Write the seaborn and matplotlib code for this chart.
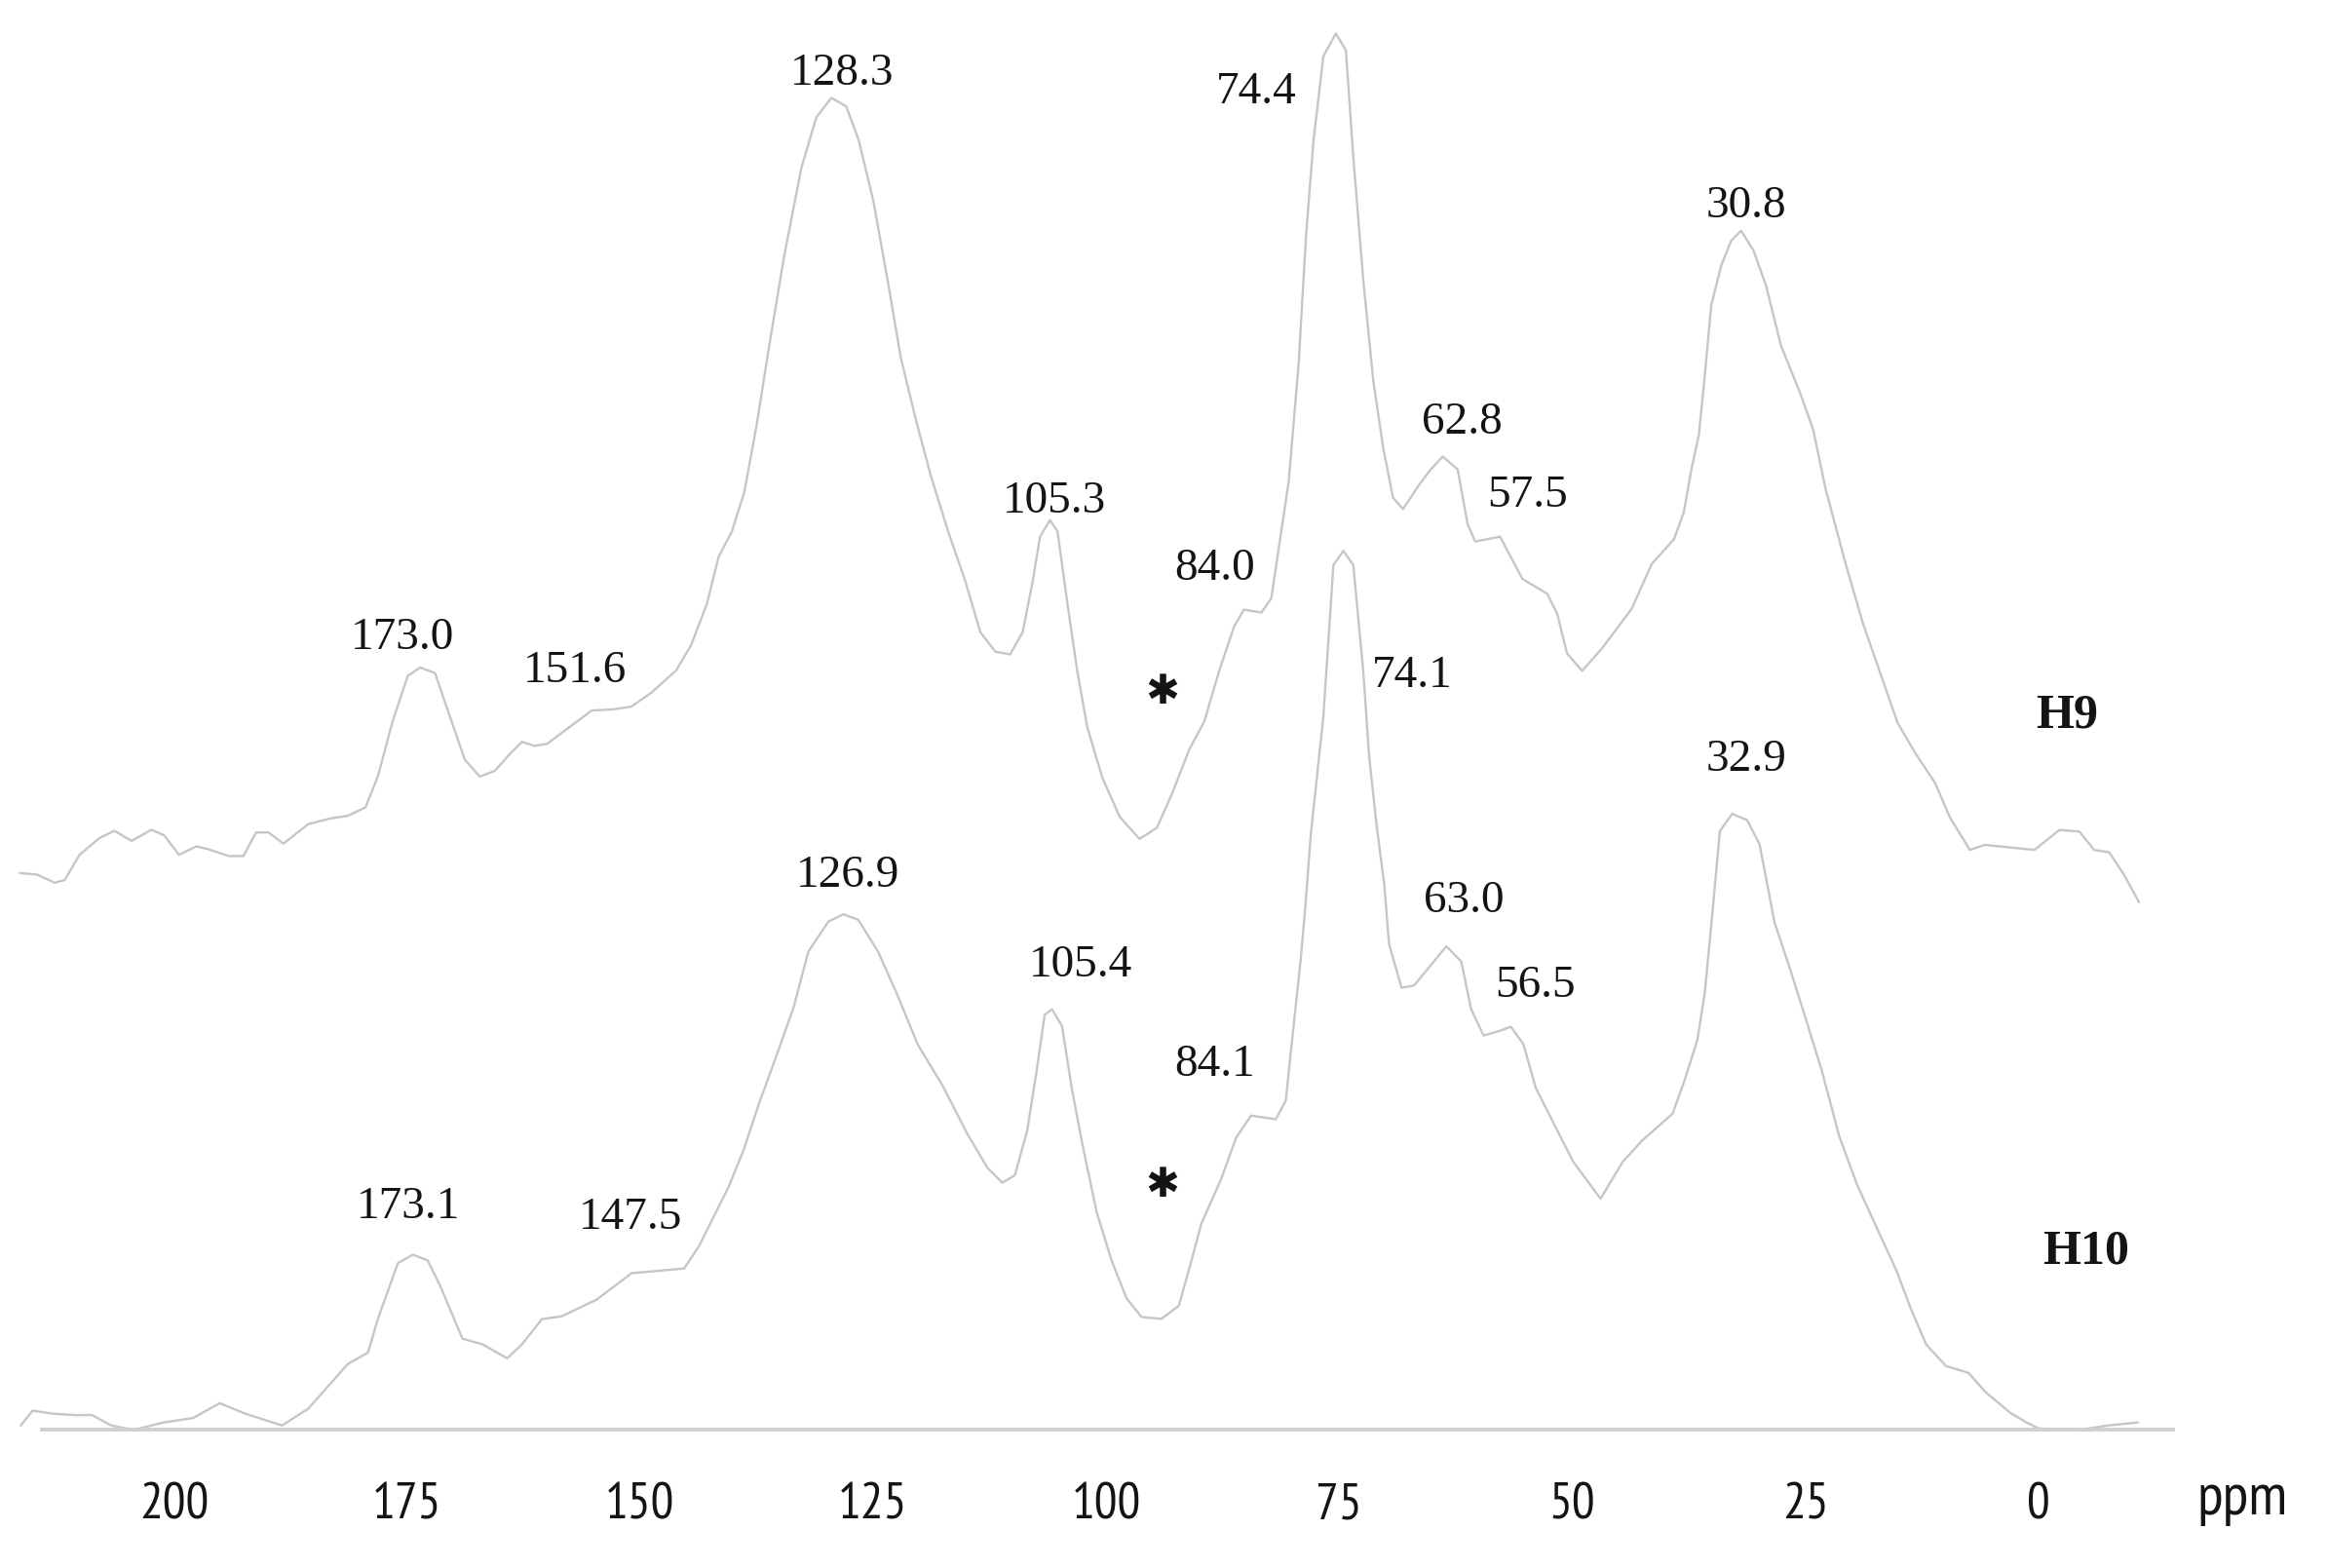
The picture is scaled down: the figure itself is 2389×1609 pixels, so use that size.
import numpy as np
import pandas as pd
import matplotlib
matplotlib.use("Agg")
import matplotlib.pyplot as plt
from matplotlib.ticker import MultipleLocator, FixedLocator
import seaborn as sns

# ---------------- data (chemical shift in ppm, intensity in arbitrary units) ----------------
h9_ppm = [216.50, 214.65, 212.77, 211.70, 210.10, 207.96, 206.37, 204.51, 202.39, 201.04,
          199.43, 197.56, 196.23, 194.11, 192.52, 191.16, 189.84, 188.23, 185.57, 183.17,
          181.31, 179.43, 178.11, 176.50, 174.90, 173.57, 171.97, 170.64, 168.77, 167.17,
          165.57, 163.69, 162.64, 161.31, 159.97, 157.83, 155.17, 153.03, 150.91, 148.77,
          146.10, 144.51, 142.82, 141.56, 140.14, 138.81, 137.48, 136.15, 134.55, 132.68,
          131.08, 129.47, 127.88, 126.54, 124.95, 123.34, 122.01, 120.41, 118.81, 116.94,
          115.08, 113.49, 111.88, 110.29, 108.95, 107.88, 107.09, 106.02, 105.21, 104.14,
          103.09, 102.02, 100.41, 98.55, 96.42, 94.55, 92.95, 91.08, 89.47, 87.88,
          86.27, 85.22, 83.34, 82.28, 81.48, 80.41, 79.35, 78.55, 77.75, 76.69,
          75.35, 74.28, 73.49, 72.42, 71.35, 70.29, 69.22, 68.15, 66.56, 65.22,
          63.89, 62.29, 61.23, 60.41, 57.75, 55.35, 52.69, 51.62, 50.56, 48.95,
          46.82, 43.63, 41.48, 39.09, 38.03, 37.23, 36.42, 35.89, 35.10, 34.03,
          32.96, 31.89, 30.56, 29.22, 27.63, 25.49, 24.16, 22.82, 20.68, 18.82,
          16.96, 15.10, 13.22, 11.10, 9.49, 7.36, 5.76, 0.43, -2.23, -4.38,
          -5.97, -7.58, -9.17, -10.78]
h9_int = [-10, -11, -16.5, -14.7, 2.3, 13.6, 18.5, 11.7, 19.2, 15.5,
          2.3, 8, 6, 1.5, 1.5, 17.4, 17.4, 9.8, 23, 26.8,
          28.6, 34.3, 55, 92.7, 122.8, 128.5, 124.7, 100.2, 66.3, 55,
          58.8, 72, 78.4, 75.7, 77, 87, 99.5, 100.2, 102.1, 111.5,
          126.6, 143.5, 171.2, 203, 220, 246.5, 291.7, 344.5, 404.7, 465,
          498.9, 512.1, 506.4, 483.8, 442.4, 385.9, 336.9, 295.5, 257.8, 220.1,
          186.2, 152.3, 139.1, 137.3, 152.3, 186.2, 216.4, 227.7, 220.1, 171.2,
          126, 88.3, 54.4, 28, 13, 20.5, 43.1, 73.2, 92.1, 126,
          156.1, 167.4, 165.5, 175, 208.8, 254, 333.1, 419.8, 483.8, 540.3,
          555.4, 544.1, 472.5, 389.6, 321.8, 276.6, 242.7, 235.2, 250.3, 261.6,
          270.5, 261.8, 225, 213.3, 216.6, 188.1, 178.1, 164.7, 137.9, 126.2,
          141.3, 168, 198.2, 214.9, 233.3, 261.8, 285.3, 318.7, 372.3, 399.1,
          415.9, 422.6, 409.2, 385.7, 345.5, 312.1, 288.6, 248.4, 198.2, 158,
          124.5, 91, 70.9, 50.8, 27.4, 5.6, 9, 5.6, 19, 18,
          5.6, 4, -11.1, -29.6]

h10_ppm = [216.40, 215.13, 213.06, 210.67, 208.76, 206.69, 204.30, 201.11, 197.93, 195.06,
           192.36, 188.38, 185.57, 181.31, 179.17, 178.11, 175.96, 174.36, 172.77, 171.43,
           169.03, 166.89, 164.24, 162.64, 160.51, 158.38, 154.63, 150.91, 145.25, 143.66,
           140.46, 138.85, 137.26, 135.65, 133.52, 131.93, 129.79, 128.18, 126.59, 124.46,
           122.32, 120.19, 117.53, 114.86, 112.72, 111.13, 109.79, 108.46, 107.39, 106.59,
           105.80, 104.73, 103.66, 102.60, 101.00, 99.39, 97.80, 96.19, 94.06, 92.20,
           90.86, 89.79, 87.66, 86.07, 84.46, 81.80, 80.73, 80.19, 79.12, 78.60,
           78.06, 76.69, 75.62, 74.55, 73.49, 72.42, 71.78, 70.97, 70.18, 69.65,
           68.31, 66.97, 63.50, 61.91, 60.84, 59.51, 57.91, 56.58, 55.24, 53.92,
           52.04, 49.90, 46.97, 44.59, 42.44, 39.25, 37.91, 36.58, 35.78, 34.98,
           34.17, 32.85, 31.24, 29.92, 28.31, 26.45, 24.84, 23.25, 21.39, 19.51,
           17.39, 15.24, 13.65, 12.05, 9.92, 7.52, 5.65, 2.98, 1.27, 0.0,
           -4.30, -7.48, -10.67]
h10_int = [3, 13, 11, 10, 10, 3, 0, 5, 8, 18,
           11, 3, 14.3, 44.5, 52, 74.6, 112.3, 118, 114.2, 97.2,
           61.4, 57.7, 48.2, 57.7, 74.6, 76.5, 87.8, 105.5, 108.7, 123.8,
           164, 189, 219.2, 246.8, 284.5, 322.2, 342.3, 347.3, 343.6, 322.2,
           292, 259.4, 231.8, 199.1, 176.5, 166.5, 171.5, 201.6, 244.3, 279.5,
           283.3, 272, 229.3, 194.1, 146.4, 113.7, 88.6, 76, 74.8, 83.6,
           113.7, 138.8, 169, 196.6, 211.7, 209.2, 221.7, 254.4, 317.2, 354.9,
           400.1, 481, 582.5, 592, 582.5, 511, 453.1, 406.2, 368.1, 327.1,
           297.8, 299.3, 325.7, 315.4, 283.2, 265.6, 268.5, 271.5, 259.7, 230.4,
           207, 180.6, 155.7, 180.6, 195.3, 212.9, 236.3, 262.7, 294.9, 347.6,
           403.3, 415, 410.6, 394.5, 341.8, 306.6, 274.4, 242.2, 198.2, 166,
           136.7, 107.4, 81, 57.6, 43, 38.5, 25.3, 11.3, 5, 1,
           0, 3, 5]

# peak annotations: (text, ppm position, height)
h9_labels = [("128.3", 128.34, 913), ("74.4", 83.92, 901), ("30.8", 31.37, 824),
             ("62.8", 61.78, 678), ("57.5", 54.78, 629), ("105.3", 105.57, 625),
             ("84.0", 88.38, 580), ("173.0", 175.48, 533), ("151.6", 157.01, 511)]
h10_labels = [("74.1", 67.20, 508), ("32.9", 31.37, 451), ("126.9", 127.71, 373),
              ("63.0", 61.62, 356), ("105.4", 102.71, 313), ("56.5", 53.98, 299),
              ("84.1", 88.38, 246), ("173.1", 174.84, 150), ("147.5", 150.96, 143)]
star_marks = [(93.95, 497), (93.95, 165)]
trace_names = [("H9", -3.03, 481), ("H10", -5.10, 120)]
h9_offset = 385

major_ticks = [200, 175, 150, 125, 100, 75, 50, 25, 0]
tick_labels = ["200", "175", "150", "125", "100", "75", "50", "25", "0"]
axis_unit = "ppm"

# ---------------- style ----------------
sns.set_style("white")
narrow = "PT Sans Narrow"
serif = "Liberation Serif"
plt.rcParams["font.family"] = [narrow, "DejaVu Sans"]

line_col = "#c6c6c6"
axis_col = "#d0d0d0"
tick_col = "#b4b4b4"
text_col = "#141414"
tick_size = 38

fig = plt.figure(figsize=(23.89, 16.09), dpi=100)
ax = fig.add_axes([0, 0, 1, 1])
ax.set_facecolor("white")

df9 = pd.DataFrame({"ppm": h9_ppm, "val": np.array(h9_int) + h9_offset})
df10 = pd.DataFrame({"ppm": h10_ppm, "val": h10_int})
sns.lineplot(data=df9, x="ppm", y="val", sort=False, estimator=None, ax=ax,
             color=line_col, lw=1.7)
sns.lineplot(data=df10, x="ppm", y="val", sort=False, estimator=None, ax=ax,
             color=line_col, lw=1.7)

ax.set_xlim(218.63, -31.05)
ax.set_ylim(-93, 963)
ax.set_xlabel("")
ax.set_ylabel("")

for s in ["top", "left", "right"]:
    ax.spines[s].set_visible(False)
sp = ax.spines["bottom"]
sp.set_position(("data", 0))
sp.set_bounds(-14.4, 214.1)
sp.set_color(axis_col)
sp.set_linewidth(2.8)

ax.xaxis.set_major_locator(FixedLocator(major_ticks))
ax.set_xticklabels(tick_labels)
ax.xaxis.set_minor_locator(MultipleLocator(5))
ax.tick_params(axis="x", which="major", direction="out", length=17, width=1.3,
               color=tick_col, pad=22, labelsize=tick_size, labelcolor=text_col)
ax.tick_params(axis="x", which="minor", direction="inout", length=9.5, width=1.3,
               color=tick_col)
for lab in ax.get_xticklabels():
    lab.set_family([narrow, "DejaVu Sans"])
ax.set_yticks([])

ax.text(-21.8, -57, axis_unit, fontsize=44, color=text_col, ha="center",
        va="baseline", family=[narrow, "DejaVu Sans"])

for txt, x, y in h9_labels + h10_labels:
    ax.text(x, y, txt, fontsize=34, color=text_col, ha="center", va="center",
            family=[serif, "DejaVu Serif"])
for x, y in star_marks:
    ax.text(x, y, "\u2731", fontsize=30, color=text_col, ha="center", va="center",
            family=["DejaVu Sans"])
for txt, x, y in trace_names:
    ax.text(x, y, txt, fontsize=36, color=text_col, ha="center", va="center",
            fontweight="bold", family=[serif, "DejaVu Serif"])

fig.savefig("out.png", dpi=100, facecolor="white")
